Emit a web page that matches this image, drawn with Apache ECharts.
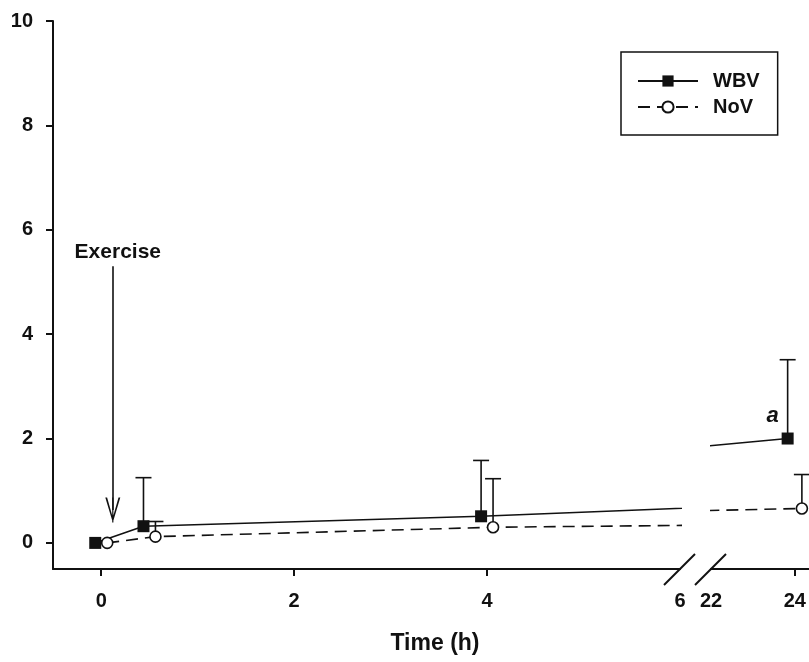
<!DOCTYPE html>
<html><head><meta charset="utf-8">
<script src="https://cdn.jsdelivr.net/npm/echarts@6/dist/echarts.min.js"></script>
<style>html,body{margin:0;padding:0;background:#fff}#c{width:809px;height:662px}</style>
</head><body><div id="c"></div>
<script>
// ---- data ----
const times = [0, 0.5, 4, 24];
const wbvMean = [0, 0.32, 0.51, 2.0];
const wbvSD = [0, 0.93, 1.07, 1.51];
const novMean = [0, 0.12, 0.30, 0.66];
const novSD = [0, 0.29, 0.93, 0.65];
const wbvNote = ['', '', '', 'a'];
const yTicks = [0, 2, 4, 6, 8, 10];
const xLabelsLeft = [0, 2, 4, 6];
const xTicksLeft = [0, 2, 4];
const xLabelsRight = [22, 24];
const xTicksRight = [24];
const exerciseArrow = { text: 'Exercise', x: 0.12, yFrom: 5.3, yTo: 0.63 };

// ---- styling ----
const FONT = "'Liberation Sans', Arial, sans-serif";
const INK = '#111';
const JIT_L = 0.062, JIT_R = 0.17; // horizontal offset of the two groups, in hours per panel
const arrowPath = 'path://M10,0 L20,25 L17.6,25 L10,5 L2.4,25 L0,25 Z M9.2,0 L10.8,0 L10.8,25 L9.2,25 Z';

const chart = echarts.init(document.getElementById('c'), null, { renderer: 'canvas' });

function lineData(mean, jit, notes) {
  return times.map((t, i) => {
    const d = { value: [t + jit, mean[i]] };
    if (notes && notes[i]) {
      d.label = {
        show: true, formatter: notes[i], position: [-9, -17], align: 'center', verticalAlign: 'middle',
        fontFamily: FONT, fontSize: 22, fontWeight: 'bold', fontStyle: 'italic', color: INK
      };
    }
    return d;
  });
}
function errData(mean, sd, jit, lo, hi) {
  const out = [];
  times.forEach((t, i) => { if (t >= lo && t <= hi && sd[i] > 0) out.push([t + jit, mean[i], sd[i]]); });
  return out;
}
function errSeries(data, axis) {
  return {
    type: 'custom', xAxisIndex: axis, yAxisIndex: axis, z: 1, silent: true,
    encode: { x: 0, y: 1 }, data: data,
    renderItem: function (params, api) {
      const x = api.value(0), m = api.value(1), s = api.value(2);
      const p0 = api.coord([x, m]), p1 = api.coord([x, m + s]);
      return {
        type: 'group', children: [
          { type: 'line', shape: { x1: p0[0], y1: p0[1], x2: p1[0], y2: p1[1] }, style: { stroke: INK, lineWidth: 1.6 } },
          { type: 'line', shape: { x1: p1[0] - 8, y1: p1[1], x2: p1[0] + 8, y2: p1[1] }, style: { stroke: INK, lineWidth: 1.6 } }
        ]
      };
    }
  };
}
function wbvLine(axis, jit, withNote) {
  return {
    name: 'WBV', type: 'line', xAxisIndex: axis, yAxisIndex: axis, z: 3, clip: true,
    data: lineData(wbvMean, -jit, withNote ? wbvNote : null),
    symbol: 'rect', symbolSize: 12, showAllSymbol: true,
    lineStyle: { color: INK, width: 1.6, type: 'solid' },
    itemStyle: { color: INK, borderColor: INK, borderWidth: 0 },
    label: { show: false }
  };
}
function novLine(axis, jit) {
  return {
    name: 'NoV', type: 'line', xAxisIndex: axis, yAxisIndex: axis, z: 3, clip: true,
    data: lineData(novMean, jit, null),
    symbol: 'circle', symbolSize: 11, showAllSymbol: true,
    lineStyle: { color: INK, width: 1.6, type: [12, 7] },
    itemStyle: { color: '#fff', borderColor: INK, borderWidth: 1.6 }
  };
}

const axisLineStyle = { show: true, onZero: false, lineStyle: { color: INK, width: 2 } };
const labelStyle = { fontFamily: FONT, fontSize: 20, fontWeight: 'bold', color: INK };

const leftWbv = wbvLine(0, JIT_L, false);
leftWbv.markLine = {
  silent: true, animation: false,
  symbol: ['none', arrowPath], symbolSize: [15, 25],
  lineStyle: { color: INK, width: 1.6, type: 'solid' },
  label: { show: true, position: 'start', distance: 4, formatter: exerciseArrow.text, offset: [5, 0],
    fontFamily: FONT, fontSize: 21, fontWeight: 'bold', color: INK },
  data: [[{ coord: [exerciseArrow.x, exerciseArrow.yFrom] }, { coord: [exerciseArrow.x, exerciseArrow.yTo] }]]
};

const option = {
  backgroundColor: '#fff',
  animation: false,
  grid: [
    { left: 53, right: 129, top: 21, bottom: 93 },
    { left: 711, right: 0, top: 21, bottom: 93 }
  ],
  xAxis: [
    {
      type: 'value', gridIndex: 0, min: -0.5, max: 6,
      axisLine: axisLineStyle,
      axisTick: { show: true, inside: false, length: 7, lineStyle: { color: INK, width: 2 }, customValues: xTicksLeft },
      axisLabel: Object.assign({ margin: 22, customValues: xLabelsLeft }, labelStyle),
      splitLine: { show: false },
      name: 'Time (h)', nameLocation: 'middle', nameGap: 63,
      nameTextStyle: { fontFamily: FONT, fontSize: 23, fontWeight: 'bold', color: INK, padding: [0, 0, 0, 137] }
    },
    {
      type: 'value', gridIndex: 1, min: 22, max: 24.34,
      axisLine: axisLineStyle,
      axisTick: { show: true, inside: false, length: 7, lineStyle: { color: INK, width: 2 }, customValues: xTicksRight },
      axisLabel: Object.assign({ margin: 22, customValues: xLabelsRight, showMinLabel: true }, labelStyle),
      splitLine: { show: false }
    }
  ],
  yAxis: [
    {
      type: 'value', gridIndex: 0, min: -0.5, max: 10,
      axisLine: axisLineStyle,
      axisTick: { show: true, length: 7, lineStyle: { color: INK, width: 2 }, customValues: yTicks },
      axisLabel: Object.assign({ margin: 20, customValues: yTicks }, labelStyle),
      splitLine: { show: false }
    },
    { type: 'value', gridIndex: 1, min: -0.5, max: 10, show: false, splitLine: { show: false } }
  ],
  legend: {
    data: ['WBV', 'NoV'], orient: 'vertical', left: 621, top: 52,
    padding: [19, 18, 18, 16], itemGap: 6, itemWidth: 60, itemHeight: 14,
    borderColor: INK, borderWidth: 1.5, borderRadius: 0,
    textStyle: { fontFamily: FONT, fontSize: 20, fontWeight: 'bold', color: INK, padding: [0, 0, 0, 10] },
    selectedMode: false
  },
  series: [
    errSeries(errData(wbvMean, wbvSD, -JIT_L, -1, 6), 0),
    errSeries(errData(novMean, novSD, JIT_L, -1, 6), 0),
    errSeries(errData(wbvMean, wbvSD, -JIT_R, 22, 25), 1),
    errSeries(errData(novMean, novSD, JIT_R, 22, 25), 1),
    leftWbv,
    novLine(0, JIT_L),
    wbvLine(1, JIT_R, true),
    novLine(1, JIT_R)
  ]
};
chart.setOption(option);

// axis-break slashes, placed from the axes' own scales
const pL = chart.convertToPixel({ xAxisIndex: 0, yAxisIndex: 0 }, [6, -0.5]);
const pR = chart.convertToPixel({ xAxisIndex: 1, yAxisIndex: 1 }, [22, -0.5]);
const slash = (p) => ({ type: 'line', silent: true, z: 10,
  shape: { x1: p[0] - 16, y1: p[1] + 16, x2: p[0] + 15, y2: p[1] - 15 },
  style: { stroke: INK, lineWidth: 2 } });
chart.setOption({ graphic: [slash(pL), slash(pR)] });
</script>
</body></html>
